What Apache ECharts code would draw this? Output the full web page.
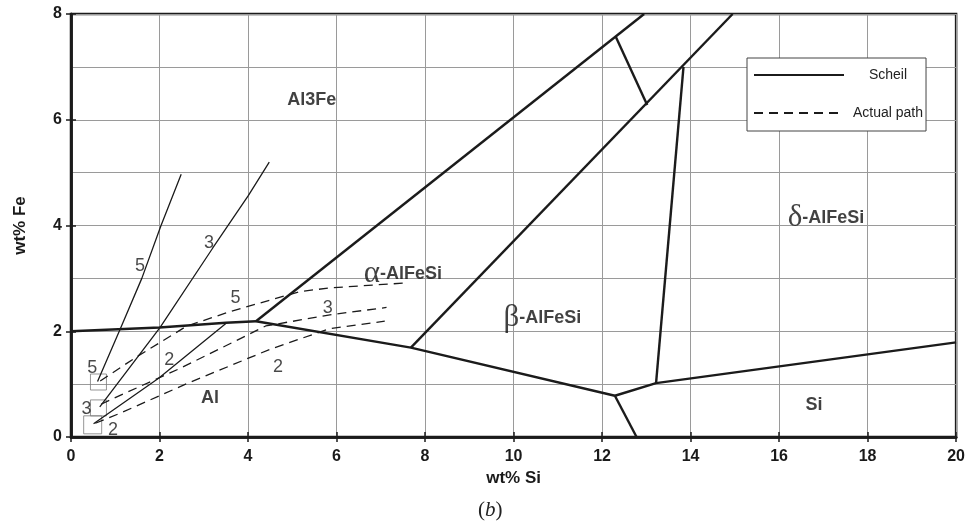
<!DOCTYPE html>
<html><head><meta charset="utf-8">
<script src="https://cdn.jsdelivr.net/npm/echarts@6/dist/echarts.min.js"></script>
<style>html,body{margin:0;padding:0;background:#fff}#c{width:968px;height:529px}</style>
</head><body><div id="c"></div>
<script>
// ---- phase boundaries (wt% Si, wt% Fe) ----
const bnd1X = [0, 2, 3.5, 4.18],            bnd1Y = [2.0, 2.07, 2.16, 2.19];
const bnd2X = [4.18, 12.95],                bnd2Y = [2.19, 8.0];
const bnd3X = [4.18, 7.68, 12.29],          bnd3Y = [2.19, 1.69, 0.78];
const bnd4X = [12.29, 12.78],               bnd4Y = [0.78, 0.0];
const bnd5X = [12.29, 13.22, 20],           bnd5Y = [0.78, 1.02, 1.79];
const bnd6X = [13.22, 13.84],               bnd6Y = [1.02, 7.0];
const bnd7X = [7.68, 14.95],                bnd7Y = [1.69, 8.0];
const bnd8X = [12.31, 13.02],               bnd8Y = [7.57, 6.28];

// ---- Scheil paths ----
const sch5X = [0.60, 1.11, 1.60, 2.03, 2.49], sch5Y = [1.05, 2.04, 3.00, 3.99, 4.97];
const sch3X = [0.65, 2.01, 3.20, 4.01, 4.48], sch3Y = [0.57, 2.07, 3.57, 4.57, 5.20];
const sch2X = [0.51, 1.98, 3.52],             sch2Y = [0.25, 1.11, 2.16];

// ---- Actual paths ----
const act5X = [0.66, 1.49, 2.62, 3.59, 4.50, 5.17, 5.85, 7.50];
const act5Y = [1.06, 1.52, 2.10, 2.37, 2.59, 2.75, 2.82, 2.91];
const act3X = [0.68, 0.96, 2.47, 4.40, 5.85, 7.13];
const act3Y = [0.62, 0.73, 1.30, 2.10, 2.31, 2.45];
const act2X = [0.55, 1.11, 2.62, 4.50, 5.85, 7.09];
const act2Y = [0.26, 0.45, 1.01, 1.66, 2.05, 2.19];

// ---- starting-composition boxes ----
const boxX = [0.62, 0.62, 0.49];
const boxY = [1.04, 0.55, 0.23];

// ---- number labels ----
const numText = ['5', '3', '2', '5', '3', '2', '5', '3', '2'];
const numX = [1.56, 3.12, 2.22, 0.48, 0.35, 0.95, 3.72, 5.80, 4.68];
const numY = [3.23, 3.67, 1.46, 1.30, 0.53, 0.13, 2.63, 2.44, 1.32];

// ---- phase region labels ----
const regionText = ['Al3Fe', 'Al', 'α-AlFeSi', 'β-AlFeSi', 'δ-AlFeSi', 'Si'];
const regionX = [5.44, 3.14, 7.50, 10.65, 17.06, 16.79];
const regionY = [6.37, 0.74, 3.08, 2.25, 4.14, 0.60];

const pts = (xs, ys) => xs.map((x, i) => [x, ys[i]]);
const INK = '#1b1b1b';

function boundary(xs, ys) {
  return { type: 'line', name: 'boundary', data: pts(xs, ys), symbol: 'none', showSymbol: false,
    lineStyle: { color: INK, width: 2.4 }, silent: true, z: 4 };
}
function scheil(xs, ys) {
  return { type: 'line', name: 'Scheil', data: pts(xs, ys), symbol: 'none', showSymbol: false,
    itemStyle: { color: INK }, lineStyle: { color: INK, width: 1.3 }, silent: true, z: 3 };
}
function actual(xs, ys) {
  return { type: 'line', name: 'Actual path', data: pts(xs, ys), symbol: 'none', showSymbol: false,
    itemStyle: { color: INK }, lineStyle: { color: INK, width: 1.3, type: [9, 6] }, silent: true, z: 3 };
}

const boxSizes = [[16, 16], [16, 16], [18, 18]];

const option = {
  animation: false,
  backgroundColor: '#fff',
  title: {
    text: '{p|(}{i|b}{p|)}', left: 473, top: 495,
    textStyle: { fontWeight: 'normal', rich: {
      p: { fontFamily: 'Liberation Serif', fontWeight: 'normal', fontSize: 21, color: '#222' },
      i: { fontFamily: 'Liberation Serif', fontWeight: 'normal', fontStyle: 'italic', fontSize: 21, color: '#222' }
    } }
  },
  legend: {
    data: ['Scheil', 'Actual path'],
    orient: 'vertical', left: 747, top: 58,
    padding: [10, 3, 11, 6], itemGap: 24,
    itemWidth: 90, itemHeight: 14,
    backgroundColor: '#fff', borderColor: '#444', borderWidth: 1,
    selectedMode: false,
    itemStyle: { opacity: 0 },
    formatter: n => '{c|' + n + '}',
    textStyle: { rich: { c: { width: 78, align: 'center', fontFamily: 'Liberation Sans', fontSize: 14, color: '#222' } } }
  },
  grid: { left: 71, right: 11, top: 14, bottom: 92, show: true, borderColor: INK, borderWidth: 2.5, backgroundColor: 'transparent' },
  xAxis: [{
    type: 'value', min: 0, max: 20, interval: 2, position: 'bottom',
    axisLine: { lineStyle: { color: INK, width: 2.5 } },
    axisTick: { inside: true, length: 5, lineStyle: { color: INK, width: 1.5 } },
    axisLabel: { margin: 12, color: '#1a1a1a', fontFamily: 'Liberation Sans', fontWeight: 'bold', fontSize: 16 },
    splitLine: { lineStyle: { color: '#9a9a9a', width: 1 } },
    name: 'wt% Si', nameLocation: 'middle', nameGap: 33,
    nameTextStyle: { color: '#1a1a1a', fontFamily: 'Liberation Sans', fontWeight: 'bold', fontSize: 17 }
  }, {
    type: 'value', min: 0, max: 20, interval: 2, position: 'top',
    axisLine: { lineStyle: { color: INK, width: 2.5 } },
    axisTick: { inside: true, length: 5, lineStyle: { color: INK, width: 1.5 } },
    axisLabel: { show: false }, splitLine: { show: false }
  }],
  yAxis: [{
    type: 'value', min: 0, max: 8, interval: 2, position: 'left',
    axisLine: { lineStyle: { color: INK, width: 2.5 } },
    axisTick: { inside: true, length: 5, lineStyle: { color: INK, width: 1.5 } },
    axisLabel: { margin: 9, color: '#1a1a1a', fontFamily: 'Liberation Sans', fontWeight: 'bold', fontSize: 16 },
    splitLine: { lineStyle: { color: '#9a9a9a', width: 1 } },
    minorTick: { show: false, splitNumber: 2 },
    minorSplitLine: { show: true, lineStyle: { color: '#9a9a9a', width: 1 } },
    name: 'wt% Fe', nameLocation: 'middle', nameGap: 42, nameRotate: 90,
    nameTextStyle: { color: '#1a1a1a', fontFamily: 'Liberation Sans', fontWeight: 'bold', fontSize: 17 }
  }, {
    type: 'value', min: 0, max: 8, interval: 2, position: 'right',
    axisLine: { lineStyle: { color: INK, width: 2.5 } },
    axisTick: { inside: true, length: 5, lineStyle: { color: INK, width: 1.5 } },
    axisLabel: { show: false }, splitLine: { show: false }
  }],
  series: [
    boundary(bnd1X, bnd1Y), boundary(bnd2X, bnd2Y), boundary(bnd3X, bnd3Y), boundary(bnd4X, bnd4Y),
    boundary(bnd5X, bnd5Y), boundary(bnd6X, bnd6Y), boundary(bnd7X, bnd7Y), boundary(bnd8X, bnd8Y),
    scheil(sch5X, sch5Y), scheil(sch3X, sch3Y), scheil(sch2X, sch2Y),
    actual(act5X, act5Y), actual(act3X, act3Y), actual(act2X, act2Y),
    {
      type: 'scatter', name: 'boxes', data: pts(boxX, boxY), symbol: 'rect',
      symbolSize: (v, p) => boxSizes[p.dataIndex],
      itemStyle: { color: 'rgba(0,0,0,0)', borderColor: '#7a7a7a', borderWidth: 1 }, silent: true, z: 2
    },
    {
      type: 'scatter', name: 'nums', data: pts(numX, numY).map((p, i) => ({ value: p, label: { formatter: numText[i] } })),
      symbolSize: 1, itemStyle: { color: 'rgba(0,0,0,0)' }, silent: true, z: 6,
      label: { show: true, position: 'inside', color: '#1a1a1a', fontFamily: 'Liberation Sans', fontSize: 18 }
    },
    {
      type: 'scatter', name: 'regions',
      data: pts(regionX, regionY).map((p, i) => {
        const t = regionText[i];
        const greek = /^[αβδ]/.test(t);
        return { value: p, label: { formatter: greek ? '{g|' + t[0] + '}{t|' + t.slice(1) + '}' : '{t|' + t + '}' } };
      }),
      symbolSize: 1, itemStyle: { color: 'rgba(0,0,0,0)' }, silent: true, z: 6,
      label: { show: true, position: 'inside', rich: {
        g: { fontFamily: 'Liberation Serif', fontSize: 31, color: '#111', verticalAlign: 'bottom' },
        t: { fontFamily: 'Liberation Sans', fontWeight: 'bold', fontSize: 18, color: '#111' }
      } }
    }
  ]
};

const chart = echarts.init(document.getElementById('c'), null, { renderer: 'canvas' });
chart.setOption(option);
</script>
</body></html>
